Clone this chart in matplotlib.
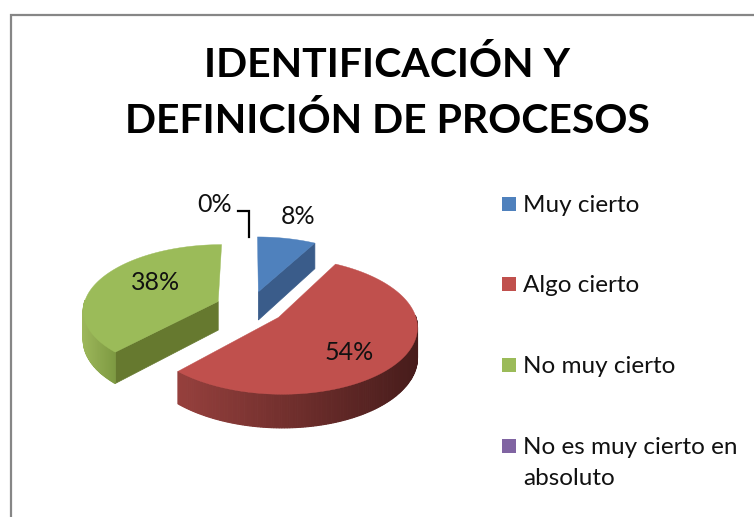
import numpy as np
import matplotlib
matplotlib.use("Agg")
import matplotlib.pyplot as plt
from matplotlib.patches import Rectangle

categories = ["Muy cierto", "Algo cierto", "No muy cierto", "No es muy cierto en\nabsoluto"]
values = [8, 54, 38, 0]
pct_labels = ["8%", "54%", "38%", "0%"]
title = "IDENTIFICACIÓN Y\nDEFINICIÓN DE PROCESOS"

colors = ["#4f81bd", "#c0504d", "#9bbb59", "#8064a2"]
cut_colors = ["#3a5c8a", "#8c3a38", "#66792f", "#5d4977"]
rim_left = ["#3a5c8a", "#96403d", "#9cb65a", "#5d4977"]
rim_right = ["#2a4366", "#471c1b", "#7e9a42", "#5d4977"]

# where the pie sits, in pixels
cx, cy = 250, 307.5
rad_x, rad_y = 135, 65
persp = 0.12
depth = 29
explode = 0.256

plt.rcParams["font.family"] = ["Lato", "DejaVu Sans"]

fig = plt.figure(figsize=(7.54, 5.17), dpi=100)
ax = fig.add_axes([0, 0, 1, 1])
ax.set_xlim(0, 754)
ax.set_ylim(517, 0)
ax.axis("off")


def project(u, v, z=0):
    # u to the right, v towards the viewer, z down
    s = 1 / (1 - persp * np.asarray(v))
    return cx + rad_x * np.asarray(u) * s, cy + (rad_y * np.asarray(v) + depth * z) * s


def mix(c1, c2, t):
    a = np.array(matplotlib.colors.to_rgb(c1))
    b = np.array(matplotlib.colors.to_rgb(c2))
    return tuple(a + (b - a) * t)


# angles run clockwise from the top
edges = np.cumsum([0] + values) / sum(values) * 2 * np.pi

for i, val in enumerate(values):
    if val == 0:
        continue
    a0, a1 = edges[i], edges[i + 1]
    mid = (a0 + a1) / 2
    ou, ov = explode * np.sin(mid), -explode * np.cos(mid)
    th = np.linspace(a0, a1, 200)
    u = ou + np.sin(th)
    v = ov - np.cos(th)

    # flat cut faces
    for ang, show in ((a1, np.sin(a1) > 0.01), (a0, np.sin(a0) < -0.01)):
        if show:
            eu, ev = ou + np.sin(ang), ov - np.cos(ang)
            xs, ys = project([ou, eu, eu, ou], [ov, ev, ev, ov], np.array([0, 0, 1, 1]))
            ax.fill(xs, ys, color=cut_colors[i], lw=0.5, zorder=2)

    # outer rim, shaded left to right
    front = np.cos(th) < 0.03
    if front.any():
        tf, bf = project(u[front], v[front]), project(u[front], v[front], 1)
        x0, x1 = tf[0].min(), tf[0].max()
        for j in range(len(tf[0]) - 1):
            t = (tf[0][j] - x0) / (x1 - x0)
            ax.fill([tf[0][j], tf[0][j + 1], bf[0][j + 1], bf[0][j]],
                    [tf[1][j], tf[1][j + 1], bf[1][j + 1], bf[1][j]],
                    color=mix(rim_left[i], rim_right[i], t), lw=0.8, zorder=2)

    # top face
    xs, ys = project(np.r_[ou, u], np.r_[ov, v])
    ax.fill(xs, ys, color=colors[i], lw=0.3, zorder=3)

# percent labels and the leader of the empty slice
label_pos = [(298, 216), (349, 352), (156, 282), (215, 204)]
for lab, (lx, ly) in zip(pct_labels, label_pos):
    ax.text(lx, ly, lab, fontsize=18, color="#111111", ha="center", va="center", zorder=5)
ax.plot([238, 249, 249], [210.5, 210.5, 237], color="black", lw=1.6, zorder=4, solid_joinstyle="miter")

ax.text(387.5, 93, title, fontsize=29.5, fontweight="bold", color="black", ha="center", va="center",
        linespacing=1.6)

# legend
legend_y = [204, 284, 365, 446]
for c, name, ly in zip(colors, categories, legend_y):
    ax.add_patch(Rectangle((501.5, ly - 7), 14, 14, facecolor=c, edgecolor="none"))
    ax.text(523, ly - 9, name, fontsize=17.5, color="#111111", ha="left", va="top", linespacing=1.6)

# chart frame, cut by the screenshot on the right and at the bottom
ax.plot([10.5, 10.5, 754], [517, 15, 15], color="#868686", lw=1.6, solid_joinstyle="miter")

fig.savefig("out.png", dpi=100, facecolor="white")
